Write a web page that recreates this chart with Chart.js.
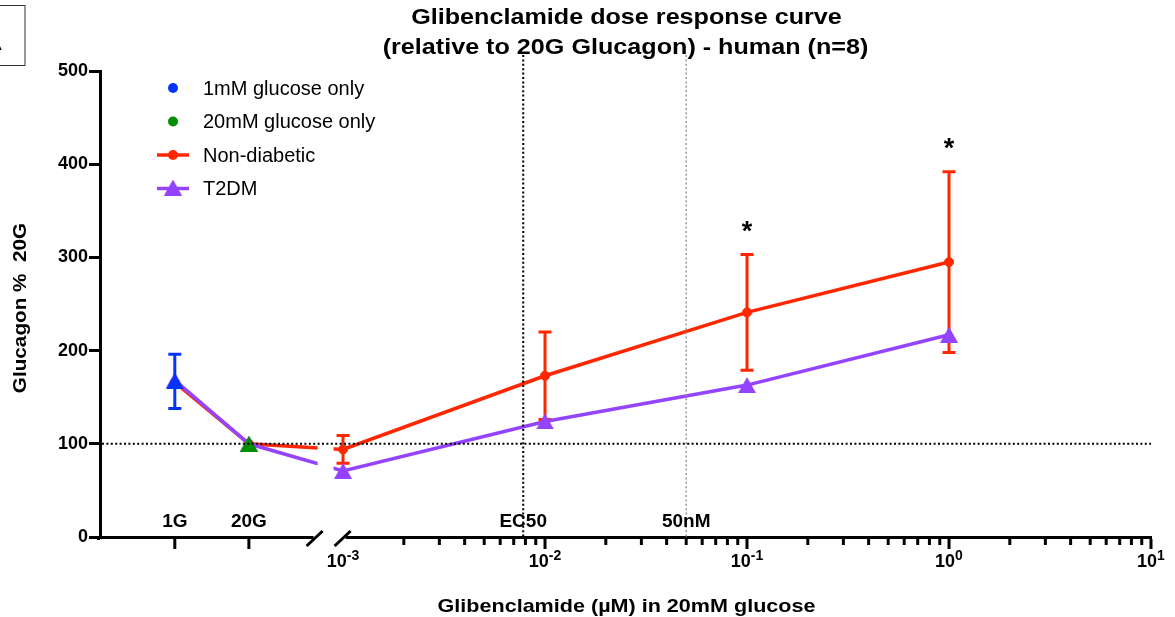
<!DOCTYPE html>
<html>
<head>
<meta charset="utf-8">
<title>Glibenclamide dose response</title>
<script src="https://cdn.jsdelivr.net/npm/chart.js@4.4.0/dist/chart.umd.min.js"></script>
<style>
  html, body { margin: 0; padding: 0; background: #fff; }
</style>
</head>
<body>
<canvas id="doseChart" width="1175" height="617"></canvas>
<script>
// ---- values ----
const glucoseLabels = ["1G", "20G"];
const glucosePos = [1.47e-4, 3.42e-4];   // where the 1G / 20G columns sit, left of the axis break
const doses = [0.001, 0.01, 0.1, 1];     // glibenclamide, uM
const decadeTicks = [0.001, 0.01, 0.1, 1, 10];

const glucose1mM = [167];
const glucose1mMSem = [29];
const glucose20mM = [100];

// 1G, 20G, then the four doses
const nonDiabetic = [166, 100, 94, 173, 241, 295];
const nonDiabeticSem = [0, 0, 15, 47, 62, 97];
const t2dm = [168, 100, 71, 124, 163, 217];

const ec50 = 0.0078;
const fiftyNM = 0.05;
const axisBreak = 8.2e-4;
const significant = [0.1, 1];   // doses marked with *

const titleLines = ["Glibenclamide dose response curve", "(relative to 20G Glucagon) - human (n=8)"];
const xTitle = "Glibenclamide (\u00b5M) in 20mM glucose";
const yTitle = "Glucagon %  20G";

const RED = "#FF2600", PURPLE = "#9444FF", BLUE = "#0433FF", GREEN = "#008F00";
const FONT = "'Liberation Sans', Arial, Helvetica, sans-serif";
Chart.defaults.font.family = FONT;
Chart.defaults.color = "#000";

const allX = glucosePos.concat(doses);
const toPoints = (xs, ys) => ys.map((y, i) => ({ x: xs[i], y: y }));

// GraphPad style triangle, centred on its bounding box
function triangleMark(color, w, h) {
  const c = document.createElement("canvas");
  c.width = w; c.height = h;
  const g = c.getContext("2d");
  g.fillStyle = color;
  g.beginPath();
  g.moveTo(w / 2, 0);
  g.lineTo(w, h);
  g.lineTo(0, h);
  g.closePath();
  g.fill();
  return c;
}

// the figure's bold titles are set a bit wider than Arial
function wideText(ctx, text, x, y, sx, rot) {
  ctx.save();
  ctx.translate(x, y);
  if (rot) ctx.rotate(rot);
  ctx.scale(sx, 1);
  ctx.fillText(text, 0, 0);
  ctx.restore();
}

// ========== error bars (drawn just before their dataset) ==========
const errorBars = {
  id: "errorBars",
  beforeDatasetDraw(chart, args) {
    const ds = chart.data.datasets[args.index];
    if (!ds.sem) return;
    const xs = chart.scales.x, ys = chart.scales.y, ctx = chart.ctx;
    ctx.save();
    ctx.strokeStyle = ds.borderColor;
    ctx.lineWidth = 3;
    ds.data.forEach((p, i) => {
      const e = ds.sem[i];
      if (!e) return;
      const px = xs.getPixelForValue(p.x);
      const top = ys.getPixelForValue(p.y + e);
      const bot = ys.getPixelForValue(p.y - e);
      ctx.beginPath();
      ctx.moveTo(px, top); ctx.lineTo(px, bot);
      ctx.moveTo(px - 6.5, top); ctx.lineTo(px + 6.5, top);
      ctx.moveTo(px - 6.5, bot); ctx.lineTo(px + 6.5, bot);
      ctx.stroke();
    });
    ctx.restore();
  }
};

// ========== axis break, reference lines, labels, legend ==========
const decorations = {
  id: "decorations",
  afterDatasetsDraw(chart) {
    const ctx = chart.ctx, a = chart.chartArea;
    const xs = chart.scales.x, ys = chart.scales.y;
    const bx = xs.getPixelForValue(axisBreak);

    ctx.save();
    // break gap in the data lines and in the axis
    ctx.fillStyle = "#fff";
    ctx.fillRect(bx - 8, a.top, 16, a.bottom - a.top - 1);
    ctx.fillRect(bx - 12, a.bottom - 2, 32, 8);
    // corner where the two axis lines meet
    ctx.fillStyle = "#000";
    ctx.fillRect(a.left - 3, a.bottom, 3, 3);

    ctx.strokeStyle = "#000";
    ctx.lineWidth = 3;
    [bx - 11, bx + 17].forEach(cx => {
      ctx.beginPath();
      ctx.moveTo(cx - 8, a.bottom + 9);
      ctx.lineTo(cx + 8, a.bottom - 6);
      ctx.stroke();
    });

    // x tick marks: long at decades and at the glucose columns, short elsewhere
    xs.ticks.forEach(t => {
      const px = xs.getPixelForValue(t.value);
      if (px > bx - 14 && px < bx + 22) return;
      ctx.beginPath();
      ctx.moveTo(px, a.bottom + 2);
      ctx.lineTo(px, a.bottom + (t.major ? 12 : 8));
      ctx.stroke();
    });

    // x tick labels 10^n
    ctx.fillStyle = "#000";
    ctx.textAlign = "left";
    ctx.textBaseline = "alphabetic";
    decadeTicks.forEach(v => {
      const px = xs.getPixelForValue(v);
      const exp = String(Math.round(Math.log10(v)));
      ctx.font = "bold 18px " + FONT;
      const wb = ctx.measureText("10").width;
      ctx.font = "bold 14px " + FONT;
      const we = ctx.measureText(exp).width;
      const x0 = px - (wb + we) / 2;
      ctx.font = "bold 18px " + FONT;
      ctx.fillText("10", x0, 567);
      ctx.font = "bold 14px " + FONT;
      ctx.fillText(exp, x0 + wb, 560);
    });

    // dotted reference lines
    ctx.lineWidth = 2;
    ctx.setLineDash([2, 2.4]);
    ctx.strokeStyle = "#000";
    const y100 = ys.getPixelForValue(100);
    ctx.beginPath();
    ctx.moveTo(a.left + 2, y100); ctx.lineTo(a.right, y100);
    ctx.stroke();
    const xe = xs.getPixelForValue(ec50);
    ctx.beginPath();
    ctx.moveTo(xe, 55); ctx.lineTo(xe, a.bottom);
    ctx.stroke();
    ctx.strokeStyle = "#9c9c9c";
    ctx.lineWidth = 1.6;
    const xn = xs.getPixelForValue(fiftyNM);
    ctx.beginPath();
    ctx.moveTo(xn, 55); ctx.lineTo(xn, a.bottom);
    ctx.stroke();
    ctx.setLineDash([]);

    // in-plot labels
    ctx.fillStyle = "#000";
    ctx.textAlign = "center";
    ctx.textBaseline = "alphabetic";
    ctx.font = "bold 19px " + FONT;
    glucoseLabels.forEach((lab, i) => ctx.fillText(lab, xs.getPixelForValue(glucosePos[i]), 527));
    ctx.fillText("EC50", xe, 527);
    ctx.fillText("50nM", xn, 527);

    // significance asterisks above the non-diabetic error bars
    ctx.font = "bold 27px " + FONT;
    significant.forEach(d => {
      const i = allX.indexOf(d);
      const top = ys.getPixelForValue(nonDiabetic[i] + nonDiabeticSem[i]);
      ctx.fillText("*", xs.getPixelForValue(d), top - 15);
    });

    // titles
    const cx = (a.left + a.right) / 2;
    ctx.font = "bold 21.5px " + FONT;
    wideText(ctx, titleLines[0], cx + 1, 24, 1.17);
    wideText(ctx, titleLines[1], cx, 53.5, 1.17);
    ctx.font = "bold 19px " + FONT;
    wideText(ctx, xTitle, cx + 1, 611.5, 1.135);
    wideText(ctx, yTitle, 25.5, 308, 1.09, -Math.PI / 2);

    // legend
    const rows = [
      { label: "1mM glucose only", color: BLUE, kind: "dot" },
      { label: "20mM glucose only", color: GREEN, kind: "dot" },
      { label: "Non-diabetic", color: RED, kind: "lineDot" },
      { label: "T2DM", color: PURPLE, kind: "lineTri" }
    ];
    rows.forEach((r, i) => {
      const cy = 88 + i * 33.5, lx = 173;
      ctx.fillStyle = r.color;
      ctx.strokeStyle = r.color;
      if (r.kind !== "dot") {
        ctx.lineWidth = 3.5;
        ctx.beginPath();
        ctx.moveTo(lx - 16, cy); ctx.lineTo(lx + 16, cy);
        ctx.stroke();
      }
      if (r.kind === "lineTri") {
        ctx.drawImage(triangleMark(r.color, 18, 16), lx - 9, cy - 9);
      } else {
        ctx.beginPath();
        ctx.arc(lx, cy, 5, 0, Math.PI * 2);
        ctx.fill();
      }
      ctx.fillStyle = "#000";
      ctx.textAlign = "left";
      ctx.textBaseline = "middle";
      ctx.font = "20px " + FONT;
      ctx.fillText(r.label, 203, cy + 1);
    });

    // panel letter box, cut by the page edge
    ctx.strokeStyle = "#333";
    ctx.lineWidth = 1;
    ctx.strokeRect(-1, 5.5, 26, 60);
    ctx.fillStyle = "#000";
    ctx.textAlign = "left";
    ctx.textBaseline = "alphabetic";
    ctx.font = "22px " + FONT;
    ctx.fillText("A", -13, 50);
    ctx.restore();
  }
};

const tickValues = [];
glucosePos.forEach(v => tickValues.push({ value: v, major: true }));
for (let e = -3; e <= 0; e++) {
  for (let k = 1; k <= 9; k++) tickValues.push({ value: k * Math.pow(10, e), major: k === 1 });
}
tickValues.push({ value: 10, major: true });

new Chart(document.getElementById("doseChart"), {
  type: "scatter",
  data: {
    datasets: [
      {
        label: "1mM glucose only",
        data: toPoints(glucosePos, glucose1mM),
        sem: glucose1mMSem,
        borderColor: BLUE,
        backgroundColor: BLUE,
        pointStyle: triangleMark(BLUE, 18, 16),
        order: 1
      },
      {
        label: "20mM glucose only",
        data: toPoints(glucosePos.slice(1), glucose20mM),
        borderColor: GREEN,
        backgroundColor: GREEN,
        pointStyle: triangleMark(GREEN, 18, 16),
        order: 2
      },
      {
        label: "T2DM",
        data: toPoints(allX, t2dm),
        showLine: true,
        borderColor: PURPLE,
        backgroundColor: PURPLE,
        borderWidth: 3.5,
        pointStyle: triangleMark(PURPLE, 18, 16),
        order: 3
      },
      {
        label: "Non-diabetic",
        data: toPoints(allX, nonDiabetic),
        sem: nonDiabeticSem,
        showLine: true,
        borderColor: RED,
        backgroundColor: RED,
        borderWidth: 3.5,
        pointRadius: 4.5,
        pointBorderWidth: 1,
        pointBorderColor: RED,
        order: 4
      }
    ]
  },
  options: {
    responsive: false,
    animation: false,
    devicePixelRatio: 1,
    layout: { padding: { left: 0, right: 24, top: 71, bottom: 0 } },
    plugins: {
      legend: { display: false },
      tooltip: { enabled: false },
      title: { display: false }
    },
    scales: {
      x: {
        type: "logarithmic",
        min: Math.pow(10, -4.203),
        max: 10,
        afterBuildTicks: scale => { scale.ticks = tickValues.map(t => ({ value: t.value, major: t.major })); },
        afterFit: scale => { scale.height = 80; },
        ticks: { display: false, autoSkip: false },
        grid: { display: false },
        border: { display: true, color: "#000", width: 3 }
      },
      y: {
        min: 0,
        max: 500,
        afterFit: scale => { scale.width = 100; },
        ticks: { stepSize: 100, font: { size: 18, weight: "bold" }, color: "#000", padding: 1 },
        grid: { drawOnChartArea: false, tickLength: 11, tickWidth: 3, tickColor: "#000" },
        border: { display: true, color: "#000", width: 3 }
      }
    }
  },
  plugins: [errorBars, decorations]
});
</script>
</body>
</html>
